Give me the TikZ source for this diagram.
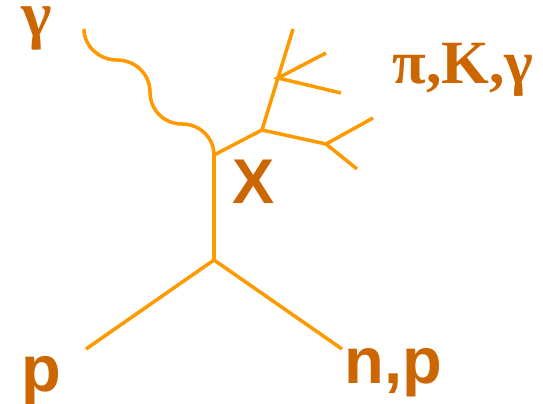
\documentclass[tikz,border=0pt]{standalone}
\usepackage{fontspec}
\setmainfont{Liberation Serif}
\setsansfont{Liberation Sans}
\definecolor{spur}{HTML}{FF9900}
\definecolor{schrift}{HTML}{CC6600}
\begin{document}
\begin{tikzpicture}[x=0.02cm,y=0.02cm,
	spurline/.style={draw=spur, line width=2pt},
	lab/.style={text=schrift, inner sep=0pt},
	sanslab/.style={lab, font=\fontsize{37}{37}\selectfont\sffamily\bfseries},
	seriflab/.style={lab, font=\fontsize{35}{35}\selectfont\bfseries}]
	\useasboundingbox (0,0) rectangle (543,403);
	% vertices
	\coordinate (vtx) at (214,143);
	\coordinate (xtop) at (214,248);
	\coordinate (pin) at (86,54);
	\coordinate (npout) at (342,54);
	\coordinate (gin) at (84,374);
	\coordinate (a) at (262,273);
	\coordinate (b) at (278,325);
	\coordinate (c) at (326,259);
	\coordinate (a1) at (293,374);
	\coordinate (b1) at (326,350);
	\coordinate (b2) at (341,310);
	\coordinate (c1) at (373,285);
	\coordinate (c2) at (357,234);
	% lines
	\draw[spurline] (pin) -- (vtx) -- (npout);
	\draw[spurline] (vtx) -- (xtop) -- (a);
	\draw[spurline] (a) -- (a1);
	\draw[spurline] (b1) -- (b) -- (b2);
	\draw[spurline] (a) -- (c);
	\draw[spurline] (c1) -- (c) -- (c2);
	\draw[spurline] (xtop) .. controls (214,265) and (200,279) .. (182,279)
		.. controls (164,279) and (150,293) .. (150,311)
		.. controls (150,329) and (135,343) .. (117,343)
		.. controls (99,343) and (84,357) .. (gin);
	% labels
	\node[seriflab, anchor=base, font=\fontsize{37}{37}\selectfont\bfseries] (glab) at (37,366) {γ};
	\node[seriflab, anchor=base west] (klab) at (392,320) {π,K,γ};
	\node[sanslab, anchor=base, font=\fontsize{36}{36}\selectfont\sffamily\bfseries] (xlab) at (254,200) {X};
	\node[sanslab, anchor=base west] (plab) at (21,12) {p};
	\node[sanslab, anchor=base west] (nplab) at (344,20) {n,p};
\end{tikzpicture}
\end{document}
